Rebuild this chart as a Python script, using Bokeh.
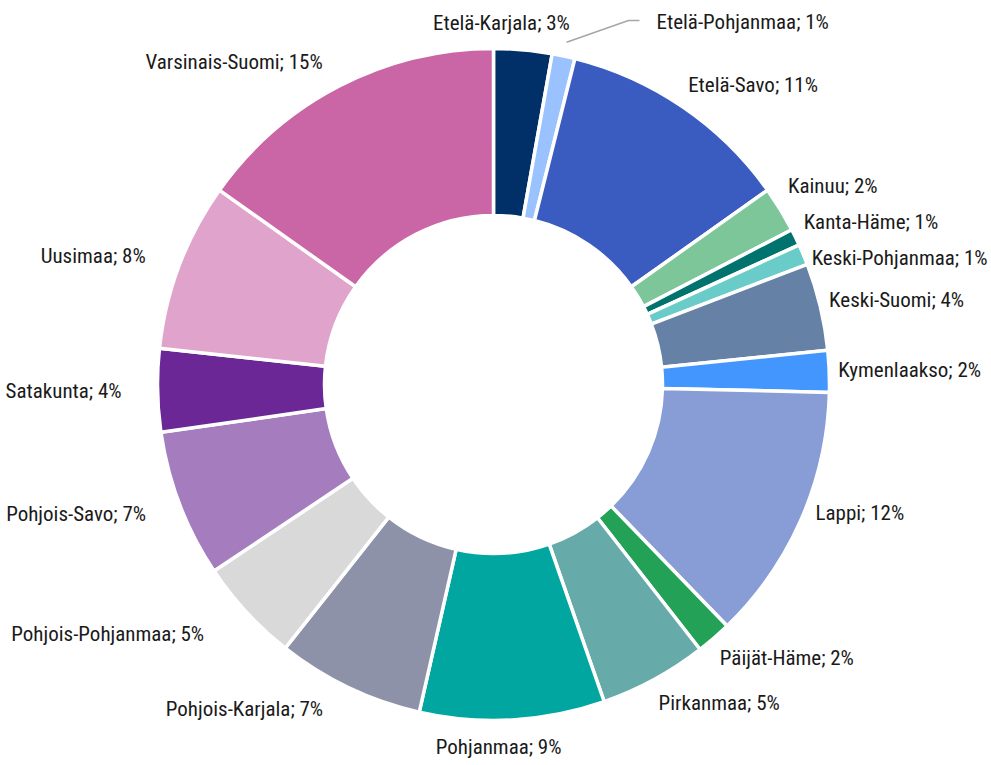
import math
from bokeh.plotting import figure
from bokeh.models import ColumnDataSource, Range1d
from bokeh.core.properties import value
from bokeh.embed import file_html
from bokeh.resources import INLINE

# ---- data -------------------------------------------------------------
regions = ["Etelä-Karjala", "Etelä-Pohjanmaa", "Etelä-Savo", "Kainuu", "Kanta-Häme",
           "Keski-Pohjanmaa", "Keski-Suomi", "Kymenlaakso", "Lappi", "Päijät-Häme",
           "Pirkanmaa", "Pohjanmaa", "Pohjois-Karjala", "Pohjois-Pohjanmaa",
           "Pohjois-Savo", "Satakunta", "Uusimaa", "Varsinais-Suomi"]
shares = [2.8, 1.1, 11.3, 2.2, 0.8, 1.0, 4.2, 2.0, 12.4, 1.7,
          5.2, 8.9, 7.1, 5.0, 7.1, 4.0, 8.1, 15.2]
colors = ["#003067", "#99c2ff", "#3a5bbf", "#7dc69a", "#00736e", "#6accc8",
          "#6581a6", "#4496ff", "#889dd6", "#22a157", "#66aaa9", "#00a69f",
          "#8d92a8", "#d9d9d9", "#a57dbf", "#6c2796", "#e0a3cb", "#cb66a6"]

# ---- layout (pixels) -----------------------------------------------------
W, H = 991, 765
CX, CY = 493, 384          # donut centre inside the figure
R_OUT, R_IN = 336, 169
FONT = value("Roboto Condensed, DejaVu Sans Condensed, Liberation Sans Narrow, Roboto, sans-serif")
FSIZE = "21px"

total = sum(shares)
starts, ends, mids = [], [], []
acc = 0.0
for v in shares:
    f0 = acc / total
    acc += v
    f1 = acc / total
    starts.append(math.pi / 2 - 2 * math.pi * f0)
    ends.append(math.pi / 2 - 2 * math.pi * f1)
    mids.append(2 * math.pi * (f0 + f1) / 2)   # clockwise from top
labels = [f"{r}; {round(v / total * 100)}%" for r, v in zip(regions, shares)]

p = figure(width=W, height=H, output_backend="svg", toolbar_location=None,
           x_range=Range1d(-CX, W - CX), y_range=Range1d(CY - H, CY),
           min_border=0, outline_line_color=None)
p.axis.visible = False
p.grid.visible = False
p.background_fill_color = "white"
p.border_fill_color = "white"

src = ColumnDataSource(dict(start=starts, end=ends, color=colors))
p.annular_wedge(x=0, y=0, inner_radius=R_IN, outer_radius=R_OUT,
                start_angle="start", end_angle="end", direction="clock",
                fill_color="color", line_color="white", line_width=3.5, source=src)

# ---- label placement ------------------------------------------------------
RX_R, RX_L, RY = 345, 372, 363
lab = []
for i, th in enumerate(mids):
    s, c = math.sin(th), math.cos(th)
    y = RY * c
    if abs(s) < 0.15:
        x, align = 0.25 * RY * s, "center"
    elif s > 0:
        x, align = RX_R * s, "left"
    else:
        x, align = -RX_L * -s, "right"
    lab.append(dict(i=i, x=x, y=y, align=align, s=s, c=c))

# manual nudges for labels moved by hand in the original (one with a leader line)
nudge = {"Etelä-Pohjanmaa": (91, 7), "Lappi": (6, 17),
         "Pohjois-Karjala": (-10, 3), "Pohjois-Pohjanmaa": (-16, -3)}
for L in lab:
    name = regions[L["i"]]
    if name in nudge:
        dx, dy = nudge[name]
        x0, y0 = 350 * L["s"], 350 * L["c"]
        L["x"] += dx
        L["y"] += dy
        if name == "Etelä-Pohjanmaa":
            p.line([x0, L["x"] - 28, L["x"] - 17], [y0, L["y"] + 2, L["y"] + 2],
                   line_color="#a6a6a6", line_width=1.5)
            L["fixed"] = True

# resolve vertical overlaps on each side
GAP = 36
for side in ("left", "right"):
    grp = [L for L in lab if L["align"] == side and not L.get("fixed")]
    grp.sort(key=lambda L: -L["y"])
    for _ in range(200):
        for a, b in zip(grp, grp[1:]):
            d = a["y"] - b["y"]
            if d < GAP:
                a["y"] += (GAP - d) / 2
                b["y"] -= (GAP - d) / 2

for align in ("left", "right", "center"):
    sel = [L for L in lab if L["align"] == align]
    if not sel:
        continue
    ts = ColumnDataSource(dict(x=[L["x"] for L in sel], y=[L["y"] for L in sel],
                               t=[labels[L["i"]] for L in sel]))
    p.text(x="x", y="y", text="t", source=ts, text_align=align,
           text_baseline="middle", text_font=FONT, text_font_size=FSIZE,
           text_color="#1a1a1a")

open("out.html", "w").write(file_html(p, INLINE))
